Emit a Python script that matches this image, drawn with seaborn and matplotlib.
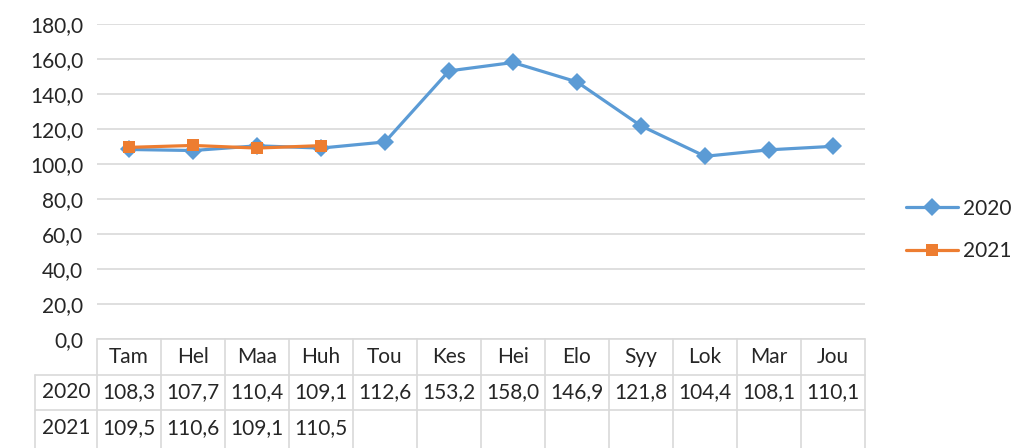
import matplotlib
matplotlib.use("Agg")
import matplotlib.pyplot as plt
from matplotlib.lines import Line2D
from matplotlib.ticker import FuncFormatter
import pandas as pd
import seaborn as sns

# Data
months = ["Tam", "Hel", "Maa", "Huh", "Tou", "Kes", "Hei", "Elo", "Syy", "Lok", "Mar", "Jou"]
values_2020 = [108.3, 107.7, 110.4, 109.1, 112.6, 153.2, 158.0, 146.9, 121.8, 104.4, 108.1, 110.1]
values_2021 = [109.5, 110.6, 109.1, 110.5]
years = ["2020", "2021"]
palette = {"2020": "#5B9BD5", "2021": "#ED7D31"}

FS = 15


def fi(v):
    return f"{v:.1f}".replace(".", ",")


rows = []
for i, v in enumerate(values_2020):
    rows.append({"kk": i, "arvo": v, "vuosi": "2020"})
for i, v in enumerate(values_2021):
    rows.append({"kk": i, "arvo": v, "vuosi": "2021"})
df = pd.DataFrame(rows)

sns.set_style("white")
plt.rcParams["font.family"] = ["Lato", "DejaVu Sans"]

fig = plt.figure(figsize=(10.15, 4.48), dpi=100)
ax = fig.add_axes([97 / 1015, 1 - 339 / 448, 768 / 1015, 315 / 448])

sns.lineplot(data=df, x="kk", y="arvo", hue="vuosi", style="vuosi",
             markers={"2020": "D", "2021": "s"}, dashes=False,
             palette=palette, linewidth=2.3, markersize=9,
             markeredgewidth=0, ax=ax)

ax.set_xlim(-0.5, len(months) - 0.5)
ax.set_ylim(0, 180)
ax.set_yticks(range(0, 181, 20))
ax.yaxis.set_major_formatter(FuncFormatter(lambda v, p: fi(v)))
ax.grid(axis="y", color="#D9D9D9", linewidth=1.2)
ax.set_xticks([])
ax.set_xlabel("")
ax.set_ylabel("")
ax.tick_params(axis="y", length=0, pad=10, labelsize=FS)
for s in ax.spines.values():
    s.set_visible(False)

# data table under the plot
tr = ax.get_xaxis_transform()
h = 35.5 / 315
w = 62 / 64
gc = "#D9D9D9"
left = -0.5 - w
right = len(months) - 0.5
kw = dict(transform=tr, clip_on=False, color=gc, linewidth=1.2)

ax.add_line(Line2D([-0.5, right], [0, 0], **kw))
for k in (1, 2):
    ax.add_line(Line2D([left, right], [-k * h, -k * h], **kw))
for i in range(len(months) + 1):
    ax.add_line(Line2D([i - 0.5, i - 0.5], [0, -3.2 * h], **kw))
ax.add_line(Line2D([left, left], [-h, -3.2 * h], **kw))

for i, m in enumerate(months):
    ax.text(i, -0.5 * h, m, transform=tr, ha="center", va="center", fontsize=FS)
table_rows = [("2020", values_2020), ("2021", values_2021)]
for r, (name, vals) in enumerate(table_rows, start=1):
    y = -(r + 0.5) * h
    ax.text(-0.5 - w / 2, y, name, transform=tr, ha="center", va="center", fontsize=FS)
    for i, v in enumerate(vals):
        ax.text(i, y, fi(v), transform=tr, ha="center", va="center", fontsize=FS)

handles, labels = ax.get_legend_handles_labels()
ax.get_legend().remove()
fig.legend(handles, labels, loc="center left", bbox_to_anchor=(887 / 1015, 1 - 230 / 448),
           frameon=False, fontsize=FS, handlelength=2.5, handletextpad=0.25,
           labelspacing=1.1)

fig.savefig("out.png", dpi=100)
